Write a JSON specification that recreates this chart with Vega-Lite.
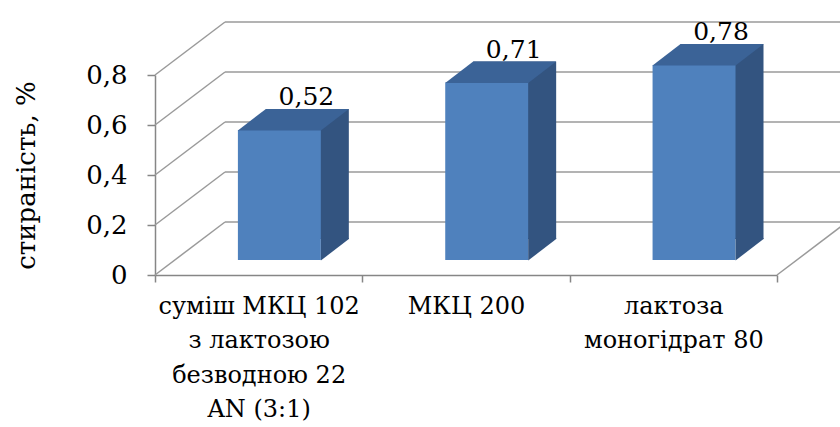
{
  "$schema": "https://vega.github.io/schema/vega-lite/v6.json",
  "width": 622,
  "height": 200,
  "autosize": "none",
  "padding": {"left": 155, "top": 75, "right": 63, "bottom": 152},
  "background": "white",
  "config": {
    "view": {"stroke": null},
    "font": "DejaVu Serif",
    "locale": {"number": {"decimal": ",", "thousands": " ", "grouping": [3], "currency": ["", ""]}}
  },
  "datasets": {
    "abrasion": [
      {"sample": "суміш МКЦ 102 з лактозою безводною 22 AN (3:1)", "value": 0.52},
      {"sample": "МКЦ 200", "value": 0.71},
      {"sample": "лактоза моногідрат 80", "value": 0.78}
    ],
    "gridlines": [{"level": 0}, {"level": 0.2}, {"level": 0.4}, {"level": 0.6}, {"level": 0.8}],
    "floor": [{"level": 0}]
  },
  "resolve": {"scale": {"x": "independent"}},
  "layer": [
    {
      "data": {"name": "gridlines"},
      "layer": [
        {
          "mark": {"type": "rule", "color": "#9a9a9a", "strokeWidth": 1.5, "x2Offset": 70, "y2Offset": -53},
          "encoding": {
            "x": {"datum": 0, "type": "quantitative", "scale": {"domain": [0, 3]}, "axis": null},
            "x2": {"datum": 0},
            "y": {"field": "level", "type": "quantitative", "scale": {"domain": [0, 0.8]}, "title": "стираність, %"},
            "y2": {"field": "level"}
          }
        },
        {
          "mark": {"type": "rule", "color": "#9a9a9a", "strokeWidth": 1.5, "xOffset": 70, "x2Offset": 70, "yOffset": -53, "y2Offset": -53},
          "encoding": {
            "x": {"datum": 0, "type": "quantitative", "scale": {"domain": [0, 3]}, "axis": null},
            "x2": {"datum": 3},
            "y": {"field": "level", "type": "quantitative", "scale": {"domain": [0, 0.8]}, "title": "стираність, %"},
            "y2": {"field": "level"}
          }
        }
      ]
    },
    {
      "data": {"name": "floor"},
      "mark": {"type": "rule", "color": "#9a9a9a", "strokeWidth": 1.5, "x2Offset": 70, "y2Offset": -53},
      "encoding": {
        "x": {"datum": 3, "type": "quantitative", "scale": {"domain": [0, 3]}, "axis": null},
        "x2": {"datum": 3},
        "y": {"field": "level", "type": "quantitative", "scale": {"domain": [0, 0.8]}, "title": "стираність, %"},
        "y2": {"field": "level"}
      }
    },
    {
      "data": {"name": "abrasion"},
      "encoding": {
        "x": {
          "field": "sample",
          "type": "nominal",
          "sort": null,
          "scale": {"paddingInner": 0, "paddingOuter": 0},
          "axis": {
            "title": null,
            "labelFont": "DejaVu Serif",
            "labelFontSize": 24,
            "labelColor": "black",
            "labelAngle": 0,
            "labelLimit": 0,
            "labelLineHeight": 34.5,
            "labelPadding": 12,
            "tickBand": "extent",
            "tickSize": 7,
            "tickColor": "#868686",
            "tickWidth": 1.5,
            "domainColor": "#868686",
            "domainWidth": 1.5,
            "labelExpr": "datum.label == 'суміш МКЦ 102 з лактозою безводною 22 AN (3:1)' ? ['суміш МКЦ 102', 'з лактозою', 'безводною 22', 'AN (3:1)'] : datum.label == 'лактоза моногідрат 80' ? ['лактоза', 'моногідрат 80'] : datum.label"
          }
        },
        "y": {
          "field": "value",
          "type": "quantitative",
          "scale": {"domain": [0, 0.8]},
          "title": "стираність, %",
          "axis": {
            "values": [0, 0.2, 0.4, 0.6, 0.8],
            "format": ".1~f",
            "grid": false,
            "labelFont": "DejaVu Serif",
            "labelFontSize": 26,
            "labelColor": "black",
            "labelPadding": 20,
            "tickSize": 8,
            "tickColor": "#868686",
            "tickWidth": 1.5,
            "domainColor": "#868686",
            "domainWidth": 1.5,
            "titleFont": "DejaVu Serif",
            "titleFontSize": 26,
            "titleFontWeight": "normal",
            "titleColor": "black",
            "titlePadding": 46
          }
        }
      },
      "layer": [
        {
          "mark": {"type": "bar", "width": {"band": 0.4}, "color": "#335480", "xOffset": 48.7, "yOffset": -36, "y2Offset": -36},
          "encoding": {"y2": {"datum": 0}}
        },
        {
          "mark": {"type": "bar", "width": {"band": 0.4}, "color": "#4f81bd", "xOffset": 20.7, "yOffset": -15, "y2Offset": -15},
          "encoding": {"y2": {"datum": 0}}
        },
        {
          "mark": {"type": "point", "shape": "M-41.5,0.5L41.5,0.5L69.5,-21L-13.5,-21Z", "size": 4, "filled": true, "opacity": 1, "strokeWidth": 0, "color": "#3b6397", "xOffset": 20.7, "yOffset": -15}
        },
        {
          "mark": {"type": "point", "shape": "M41.5,0.5L69.5,-21L69.5,-22L41.5,-22Z", "size": 4, "filled": true, "opacity": 1, "strokeWidth": 0, "color": "#335480", "xOffset": 20.7, "yOffset": -15},
          "encoding": {"y": {"datum": 0, "type": "quantitative"}}
        },
        {
          "mark": {"type": "text", "font": "DejaVu Serif", "fontSize": 25, "color": "black", "align": "center", "baseline": "alphabetic", "xOffset": 47.7, "yOffset": -40},
          "encoding": {"text": {"field": "value", "type": "quantitative", "format": ".2f"}}
        }
      ]
    }
  ]
}
